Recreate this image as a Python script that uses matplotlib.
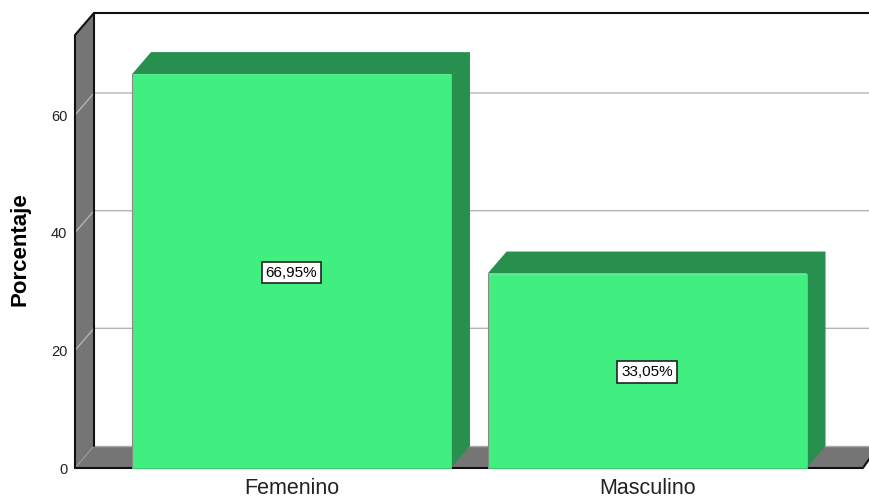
import matplotlib
matplotlib.use('Agg')
import matplotlib.pyplot as plt
from matplotlib.patches import Polygon

plt.rcParams['font.family'] = ['Liberation Sans', 'DejaVu Sans']

categories = ['Femenino', 'Masculino']
values = [66.95, 33.05]
labels = ['66,95%', '33,05%']
y_ticks = [0, 20, 40, 60]

GREEN = '#41EE80'
DARK_GREEN = '#27904F'
GRAY = '#757575'
GRID = '#b4b4b4'

# 3d look: how far the back plane sits from the front plane, in data units
DX = 0.0534
DY = 3.74
BAR_W = 0.897
X_MIN, X_MAX = -0.609, 1.627
Y_TOP = 73.6


def draw_walls(ax):
    ax.add_patch(Polygon([(X_MIN, 0), (X_MIN + DX, DY), (X_MIN + DX, Y_TOP + DY), (X_MIN, Y_TOP)],
                         facecolor=GRAY, edgecolor='none', zorder=1))
    ax.add_patch(Polygon([(X_MIN, 0), (X_MIN + DX, DY), (X_MAX + 0.03, DY), (X_MAX - 0.02, 0)],
                         facecolor=GRAY, edgecolor='none', zorder=1))
    for t in y_ticks[1:]:
        ax.plot([X_MIN, X_MIN + DX, X_MAX + 0.03], [t, t + DY, t + DY], color=GRID, lw=1, zorder=2)
    ax.plot([X_MIN, X_MIN + DX], [0, DY], color='#999999', lw=0.8, zorder=2)

    black = dict(color='#111111', lw=1.5, zorder=3, solid_capstyle='round')
    ax.plot([X_MIN, X_MIN, X_MIN + DX, X_MAX + 0.03], [0, Y_TOP, Y_TOP + DY, Y_TOP + DY], **black)
    ax.plot([X_MIN + DX, X_MIN + DX], [DY, Y_TOP + DY], **black)
    ax.plot([X_MIN, X_MAX - 0.02, X_MAX + 0.0], [0, 0, 1.7], **black)
    ax.plot([X_MIN + DX, X_MAX + 0.03], [DY, DY], color='#aaaaaa', lw=1, zorder=2)


def draw_bars(ax):
    xs = range(len(categories))
    ax.bar(xs, values, width=BAR_W, color=GREEN, edgecolor=GREEN, linewidth=0.5, zorder=5)
    for x, v, lab in zip(xs, values, labels):
        l = x - BAR_W / 2
        r = x + BAR_W / 2
        # top and side in one shape so no seam shows at the corner
        ax.add_patch(Polygon([(l, v), (l + DX, v + DY), (r + DX, v + DY), (r + DX, DY), (r, 0), (r, v)],
                             facecolor=DARK_GREEN, edgecolor='none', zorder=4))
        ax.plot([l, l], [0, v], color='#8a8a8a', lw=0.8, zorder=6)
        ax.text(x, v / 2, lab, ha='center', va='center_baseline', fontsize=11, color='black', zorder=7,
                bbox=dict(boxstyle='square,pad=0.25', facecolor='white', edgecolor='#222222', linewidth=1.2))


def main():
    fig = plt.figure(figsize=(8.7, 4.99), dpi=100)
    ax = fig.add_axes([75 / 870, 31 / 499, 795 / 870, 433 / 499])
    ax.set_xlim(X_MIN, X_MAX)
    ax.set_ylim(0, Y_TOP)

    draw_walls(ax)
    draw_bars(ax)
    for artist in ax.patches + ax.lines:
        artist.set_clip_on(False)

    for s in ax.spines.values():
        s.set_visible(False)
    ax.patch.set_visible(False)
    ax.set_xticks(range(len(categories)), categories)
    ax.set_yticks(y_ticks)
    ax.tick_params(axis='x', length=0, pad=7.5, labelsize=15.5, labelcolor='#222222')
    ax.tick_params(axis='y', length=0, pad=5.5, labelsize=10.5, labelcolor='#222222')
    ax.set_ylabel('Porcentaje', fontsize=16, fontweight='bold')
    ax.yaxis.set_label_coords(-44 / 795, 219 / 433)

    fig.savefig('out.png', dpi=100)


if __name__ == "__main__":
    main()
